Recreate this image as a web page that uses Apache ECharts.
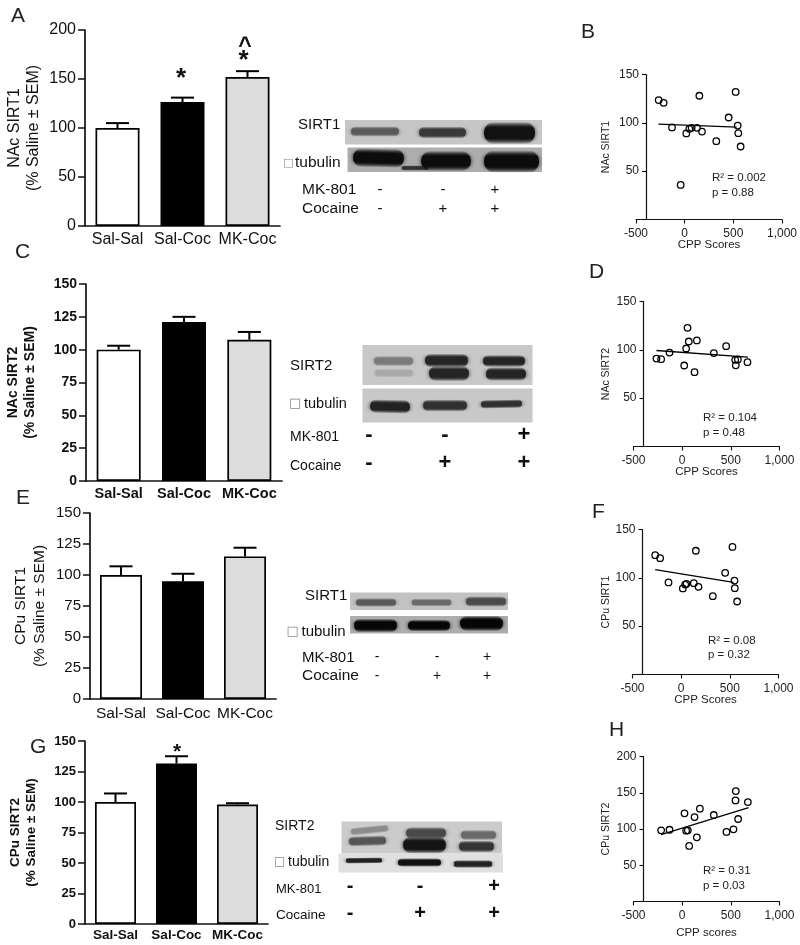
<!DOCTYPE html>
<html>
<head>
<meta charset="utf-8">
<style>html,body{margin:0;padding:0;background:#fff}#c{width:800px;height:945px}</style>
<script src="https://cdn.jsdelivr.net/npm/echarts@6/dist/echarts.min.js"></script>
</head>
<body>
<div id="c"></div>
<script>
// ---------- DATA ----------
const categories = ['Sal-Sal', 'Sal-Coc', 'MK-Coc'];
const barFills = ['#ffffff', '#000000', '#dcdcdc'];

const aMeans = [100, 126.5, 152];
const aTops = [105, 131, 158];
const cMeans = [100, 121, 107.5];
const cTops = [103, 125, 113.5];
const eMeans = [100, 95, 115];
const eTops = [107, 101, 122];
const gMeans = [100, 131.5, 98];
const gTops = [107, 137.5, 99];

const bX = [-267, -216, -130, -41, 17, 48, 72, 127, 178, 151, 325, 452, 524, 545, 551, 575];
const bY = [123.5, 120.7, 95.2, 35.8, 89, 93.8, 94.8, 94.8, 91, 128, 81, 105.5, 132, 97.2, 89.3, 75.5];
const bFit = [[-270, 98.6], [534, 95.5]];

const dX = [-264, -216, -130, 21, 41, 55, 68, 127, 151, 325, 452, 545, 551, 572, 671];
const dY = [91, 90.3, 97.2, 83.8, 101.4, 122.8, 108.6, 76.9, 109.7, 96.6, 103.8, 89.7, 84, 90, 87.2];
const dFit = [[-264, 99.3], [675, 92.4]];

const fX = [-267, -216, -130, 17, 41, 55, 130, 151, 178, 325, 452, 527, 548, 551, 575];
const fY = [123.4, 120.3, 95.2, 89, 93, 93.8, 94.5, 128, 90.7, 81, 105.2, 132, 97.2, 89.3, 75.5];
const fFit = [[-267, 108.6], [538, 95.2]];

const hX = [-216, -130, 24, 41, 58, 72, 127, 151, 182, 325, 455, 527, 548, 551, 575, 675];
const hY = [98.2, 99, 121.6, 97.7, 98.2, 76.6, 116.5, 88.5, 128, 119.3, 95.9, 99.5, 139.4, 152.3, 113.8, 137.2];
const hFit = [[-216, 92.2], [682, 129.4]];

// ---------- BUILD ----------
const FF = '"Liberation Sans", Arial, sans-serif';
const INK = '#111';
const grids = [], xAxes = [], yAxes = [], series = [], gfx = [];

function addBar(p) {
  const i = grids.length;
  const w = p.weight || 'normal';
  grids.push({left: p.left, top: p.top, width: p.width, height: p.height});
  xAxes.push({type: 'category', gridIndex: i, data: categories,
    axisLine: {lineStyle: {color: INK, width: 1.7}}, axisTick: {show: false},
    axisLabel: {color: INK, fontFamily: FF, fontSize: p.catSize, fontWeight: w, margin: p.catMargin, interval: 0}});
  yAxes.push({type: 'value', gridIndex: i, min: 0, max: p.max, interval: p.step,
    name: p.name, nameLocation: 'middle', nameGap: p.nameGap, nameRotate: 90,
    nameTextStyle: {color: INK, fontFamily: FF, fontSize: p.nameSize, fontWeight: w, lineHeight: p.nameLH},
    splitLine: {show: false},
    axisLine: {show: true, lineStyle: {color: INK, width: 1.7}},
    axisTick: {show: true, length: 7, lineStyle: {color: INK, width: 1.5}},
    axisLabel: {color: INK, fontFamily: FF, fontSize: p.tickSize, fontWeight: w, margin: 9}});
  series.push({type: 'bar', xAxisIndex: i, yAxisIndex: i, barWidth: p.barW, silent: true, z: 3,
    data: p.means.map((v, k) => ({value: v, itemStyle: {color: barFills[k], borderColor: '#000', borderWidth: 1.7}}))});
  series.push({type: 'custom', xAxisIndex: i, yAxisIndex: i, silent: true, z: 2,
    data: p.tops.map((t, k) => [k, p.means[k], t]),
    renderItem: function (params, api) {
      const a = api.coord([api.value(0), api.value(1)]);
      const b = api.coord([api.value(0), api.value(2)]);
      const st = {stroke: '#000', lineWidth: 2, fill: null};
      return {type: 'group', children: [
        {type: 'line', shape: {x1: a[0], y1: a[1], x2: b[0], y2: b[1]}, style: st},
        {type: 'line', shape: {x1: a[0] - 11.5, y1: b[1], x2: a[0] + 11.5, y2: b[1]}, style: st}
      ]};
    }});
}

function addScatter(p) {
  const i = grids.length;
  grids.push({left: p.left, top: p.top, width: 146, height: p.height});
  xAxes.push({type: 'value', gridIndex: i, min: -500, max: 1000, interval: 500,
    name: p.xName, nameLocation: 'middle', nameGap: p.xGap, nameMoveOverlap: false,
    nameTextStyle: {color: '#222', fontFamily: FF, fontSize: 11.5},
    splitLine: {show: false},
    axisLine: {onZero: false, lineStyle: {color: INK, width: 1.2}},
    axisTick: {length: 4, lineStyle: {color: INK, width: 1.1}},
    axisLabel: {color: '#222', fontFamily: FF, fontSize: 12, margin: 8, hideOverlap: false}});
  yAxes.push({type: 'value', gridIndex: i, min: 0, max: p.max, interval: 50, offset: -10,
    name: p.yName, nameLocation: 'middle', nameGap: p.yGap, nameRotate: 90,
    nameTextStyle: {color: '#222', fontFamily: FF, fontSize: 10.5},
    splitLine: {show: false},
    axisLine: {show: true, onZero: false, lineStyle: {color: INK, width: 1.2}},
    axisTick: {show: true, length: 4, lineStyle: {color: INK, width: 1.1}},
    axisLabel: {color: '#222', fontFamily: FF, fontSize: 12, margin: 7,
      formatter: v => (v === 0 ? '' : String(v))}});
  series.push({type: 'scatter', xAxisIndex: i, yAxisIndex: i, silent: true, symbol: 'circle', symbolSize: 6.5,
    itemStyle: {color: 'rgba(255,255,255,0)', borderColor: '#000', borderWidth: 1.3, opacity: 1},
    data: p.xs.map((x, k) => [x, p.ys[k]]), z: 3});
  series.push({type: 'line', xAxisIndex: i, yAxisIndex: i, silent: true, symbol: 'none', data: p.fit,
    lineStyle: {color: '#000', width: 1.3}, z: 2});
}

function txt(s, x, y, size, o) {
  o = o || {};
  gfx.push({type: 'text', silent: true, z: 20, style: {text: s, x: x, y: y, fontSize: size,
    fontFamily: o.family || FF, fontWeight: o.weight || 'normal', fill: o.fill || INK,
    align: o.align || 'left', verticalAlign: 'middle'}});
}
function panel(x0, x1, y0, y1, fill) {
  gfx.push({type: 'rect', silent: true, z: 10, shape: {x: x0, y: y0, width: x1 - x0, height: y1 - y0},
    style: {fill: fill}});
}
function band(x0, x1, cy, h, color, rot) {
  const full = h * 1.7 + 2;
  const c = parseInt(color.slice(1, 3), 16);
  const rgb = a => 'rgba(' + c + ',' + c + ',' + c + ',' + a + ')';
  gfx.push({type: 'rect', silent: true, z: 11, rotation: rot || 0, originX: (x0 + x1) / 2, originY: cy,
    shape: {x: x0, y: cy - full / 2, width: x1 - x0, height: full, r: full / 2},
    style: {
      fill: new echarts.graphic.LinearGradient(0, 0, 0, 1, [
        {offset: 0, color: rgb(0)}, {offset: 0.28, color: rgb(1)},
        {offset: 0.72, color: rgb(1)}, {offset: 1, color: rgb(0)}]),
      shadowBlur: 4, shadowColor: rgb(0.9)}});
}

addBar({left: 85, top: 30, width: 195, height: 196, max: 200, step: 50, means: aMeans, tops: aTops, barW: 44,
  name: 'NAc SIRT1\n(% Saline ± SEM)', nameGap: 42, nameSize: 16, nameLH: 19, tickSize: 16, catSize: 16, catMargin: 6});
addBar({left: 86, top: 284, width: 196, height: 197, max: 150, step: 25, means: cMeans, tops: cTops, barW: 44,
  name: 'NAc SIRT2\n(% Saline ± SEM)', nameGap: 47, nameSize: 14, nameLH: 17, tickSize: 14, catSize: 14.5, catMargin: 5, weight: 'bold'});
addBar({left: 90, top: 513, width: 186, height: 186, max: 150, step: 25, means: eMeans, tops: eTops, barW: 42,
  name: 'CPu SIRT1\n(% Saline ± SEM)', nameGap: 41, nameSize: 15.5, nameLH: 19, tickSize: 15, catSize: 15.5, catMargin: 7});
addBar({left: 85, top: 741, width: 183, height: 183, max: 150, step: 25, means: gMeans, tops: gTops, barW: 41,
  name: 'CPu SIRT2\n(% Saline ± SEM)', nameGap: 46, nameSize: 13.5, nameLH: 16, tickSize: 13, catSize: 13.5, catMargin: 4, weight: 'bold'});

addScatter({left: 636, top: 74.5, height: 145, max: 150, xs: bX, ys: bY, fit: bFit,
  xName: 'CPP Scores', xGap: 19, yName: 'NAc SIRT1', yGap: 34});
addScatter({left: 633.5, top: 301.5, height: 145, max: 150, xs: dX, ys: dY, fit: dFit,
  xName: 'CPP Scores', xGap: 19, yName: 'NAc SIRT2', yGap: 32});
addScatter({left: 632.5, top: 529.5, height: 145, max: 150, xs: fX, ys: fY, fit: fFit,
  xName: 'CPP Scores', xGap: 19, yName: 'CPu SIRT1', yGap: 31});
addScatter({left: 633.5, top: 756.5, height: 145, max: 200, xs: hX, ys: hY, fit: hFit,
  xName: 'CPP scores', xGap: 25, yName: 'CPu SIRT2', yGap: 32});

// Panel letters
[['A', 11, 16], ['C', 15, 252], ['E', 16, 498], ['G', 30, 747], ['B', 581, 32], ['D', 589, 272], ['F', 592, 512], ['H', 609, 730]]
  .forEach(l => txt(l[0], l[1], l[2], 21, {fill: '#222'}));

// Significance marks
txt('*', 181, 79, 26, {weight: 'bold', align: 'center'});
txt('*', 243.5, 61, 26, {weight: 'bold', align: 'center'});
txt('^', 245, 47, 23, {weight: 'bold', align: 'center'});
txt('*', 177, 752, 21, {weight: 'bold', align: 'center'});

// Fit annotations
[['R² = 0.002', 'p = 0.88', 712, 178, 193], ['R² = 0.104', 'p = 0.48', 703, 418, 433],
 ['R² = 0.08', 'p = 0.32', 708, 641, 655], ['R² = 0.31', 'p = 0.03', 703, 871, 886]]
  .forEach(a => { txt(a[0], a[2], a[3], 11.5, {fill: '#222'}); txt(a[1], a[2], a[4], 11.5, {fill: '#222'}); });

// Blot A
panel(345, 542, 120, 144.5, '#c6c6c6');
band(351, 399, 131.5, 5, '#5a5a5a'); band(419, 466, 132.5, 6, '#383838'); band(484, 535, 133, 12, '#111111');
panel(347.5, 542, 147.5, 172, '#adadad');
band(353, 404, 158, 10, '#0c0c0c', -0.02); band(402, 428, 168, 2, '#333333', 0); band(421, 471, 161, 11, '#0c0c0c'); band(484, 539, 161.5, 12, '#0c0c0c');
txt('SIRT1', 298, 125, 15);
txt('□', 283, 163, 11, {family: '"DejaVu Sans"', fill: '#888'});
txt('tubulin', 295, 163, 15.5);
txt('MK-801', 302, 190, 15.5); txt('Cocaine', 302, 209, 15.5);
[[380, '-', '-'], [443, '-', '+'], [495, '+', '+']].forEach(s => {
  txt(s[1], s[0], 190, 15, {align: 'center'}); txt(s[2], s[0], 209, 15, {align: 'center'});
});

// Blot C
panel(362.5, 532.5, 345, 385, '#c8c8c8');
band(374, 413, 361, 5, '#7a7a7a'); band(425, 468, 360.5, 7, '#242424'); band(483, 525, 361, 6, '#242424');
band(375, 413, 373, 4, '#a8a8a8'); band(429, 469, 373.5, 8, '#242424'); band(486, 526, 374, 7, '#242424');
panel(362.5, 532.5, 388.5, 422.5, '#c8c8c8');
band(370, 410, 406.5, 7, '#222222', -0.02); band(423, 467, 405.5, 6, '#303030'); band(481, 522, 404, 4, '#303030', 0.02);
txt('SIRT2', 290, 366, 15);
txt('□', 289, 404, 13, {family: '"DejaVu Sans"', fill: '#888'});
txt('tubulin', 304, 404, 14.5);
txt('MK-801', 290, 437, 14); txt('Cocaine', 290, 466, 14);
[[369, '-', '-'], [445, '-', '+'], [524, '+', '+']].forEach(s => {
  txt(s[1], s[0], 435, 22, {align: 'center', weight: 'bold'}); txt(s[2], s[0], 463, 22, {align: 'center', weight: 'bold'});
});

// Blot E
panel(350, 508, 592.5, 610, '#c2c2c2');
band(356, 396, 602.5, 4, '#5a5a5a'); band(412, 451, 602.5, 3.5, '#6a6a6a'); band(466, 506, 601.5, 5, '#4a4a4a');
panel(350, 508, 616, 633.5, '#adadad');
band(354, 397, 625.5, 7, '#060606'); band(408, 450, 625.5, 6, '#060606'); band(460, 503, 623.5, 8, '#060606');
txt('SIRT1', 305, 596, 15);
txt('□', 286.5, 632, 13, {family: '"DejaVu Sans"', fill: '#888'});
txt('tubulin', 301.5, 632, 15);
txt('MK-801', 302, 658, 15); txt('Cocaine', 302, 676, 15.5);
[[377, '-', '-'], [437, '-', '+'], [487, '+', '+']].forEach(s => {
  txt(s[1], s[0], 657, 14, {align: 'center'}); txt(s[2], s[0], 676, 14, {align: 'center'});
});

// Blot G
panel(341.5, 502, 821.5, 853.5, '#cbcbcb');
band(351, 388, 830, 3.5, '#8c8c8c', 0.1); band(406, 446, 833, 6, '#484848'); band(461, 496, 835, 5, '#6a6a6a');
band(349, 386, 841, 5, '#555555', 0.03); band(403, 446, 845, 9, '#141414'); band(459, 494, 846.5, 6, '#343434');
panel(338.5, 503, 853.5, 872.5, '#e0e0e0');
band(346, 382, 860.5, 2.5, '#222222', 0.01); band(398, 441, 862.5, 4, '#111111'); band(454, 492, 864, 3.5, '#222222');
txt('SIRT2', 275, 826, 14);
txt('□', 274, 862, 12, {family: '"DejaVu Sans"', fill: '#888'});
txt('tubulin', 288, 862, 14);
txt('MK-801', 276, 889, 13); txt('Cocaine', 276, 915, 13.5);
[[350, '-', '-'], [420, '-', '+'], [494, '+', '+']].forEach(s => {
  txt(s[1], s[0], 886, 20, {align: 'center', weight: 'bold'}); txt(s[2], s[0], 913, 20, {align: 'center', weight: 'bold'});
});

const chart = echarts.init(document.getElementById('c'), null, {renderer: 'canvas', width: 800, height: 945});
chart.setOption({animation: false, backgroundColor: '#fff', grid: grids, xAxis: xAxes, yAxis: yAxes, series: series, graphic: {elements: gfx}});
</script>
</body>
</html>
